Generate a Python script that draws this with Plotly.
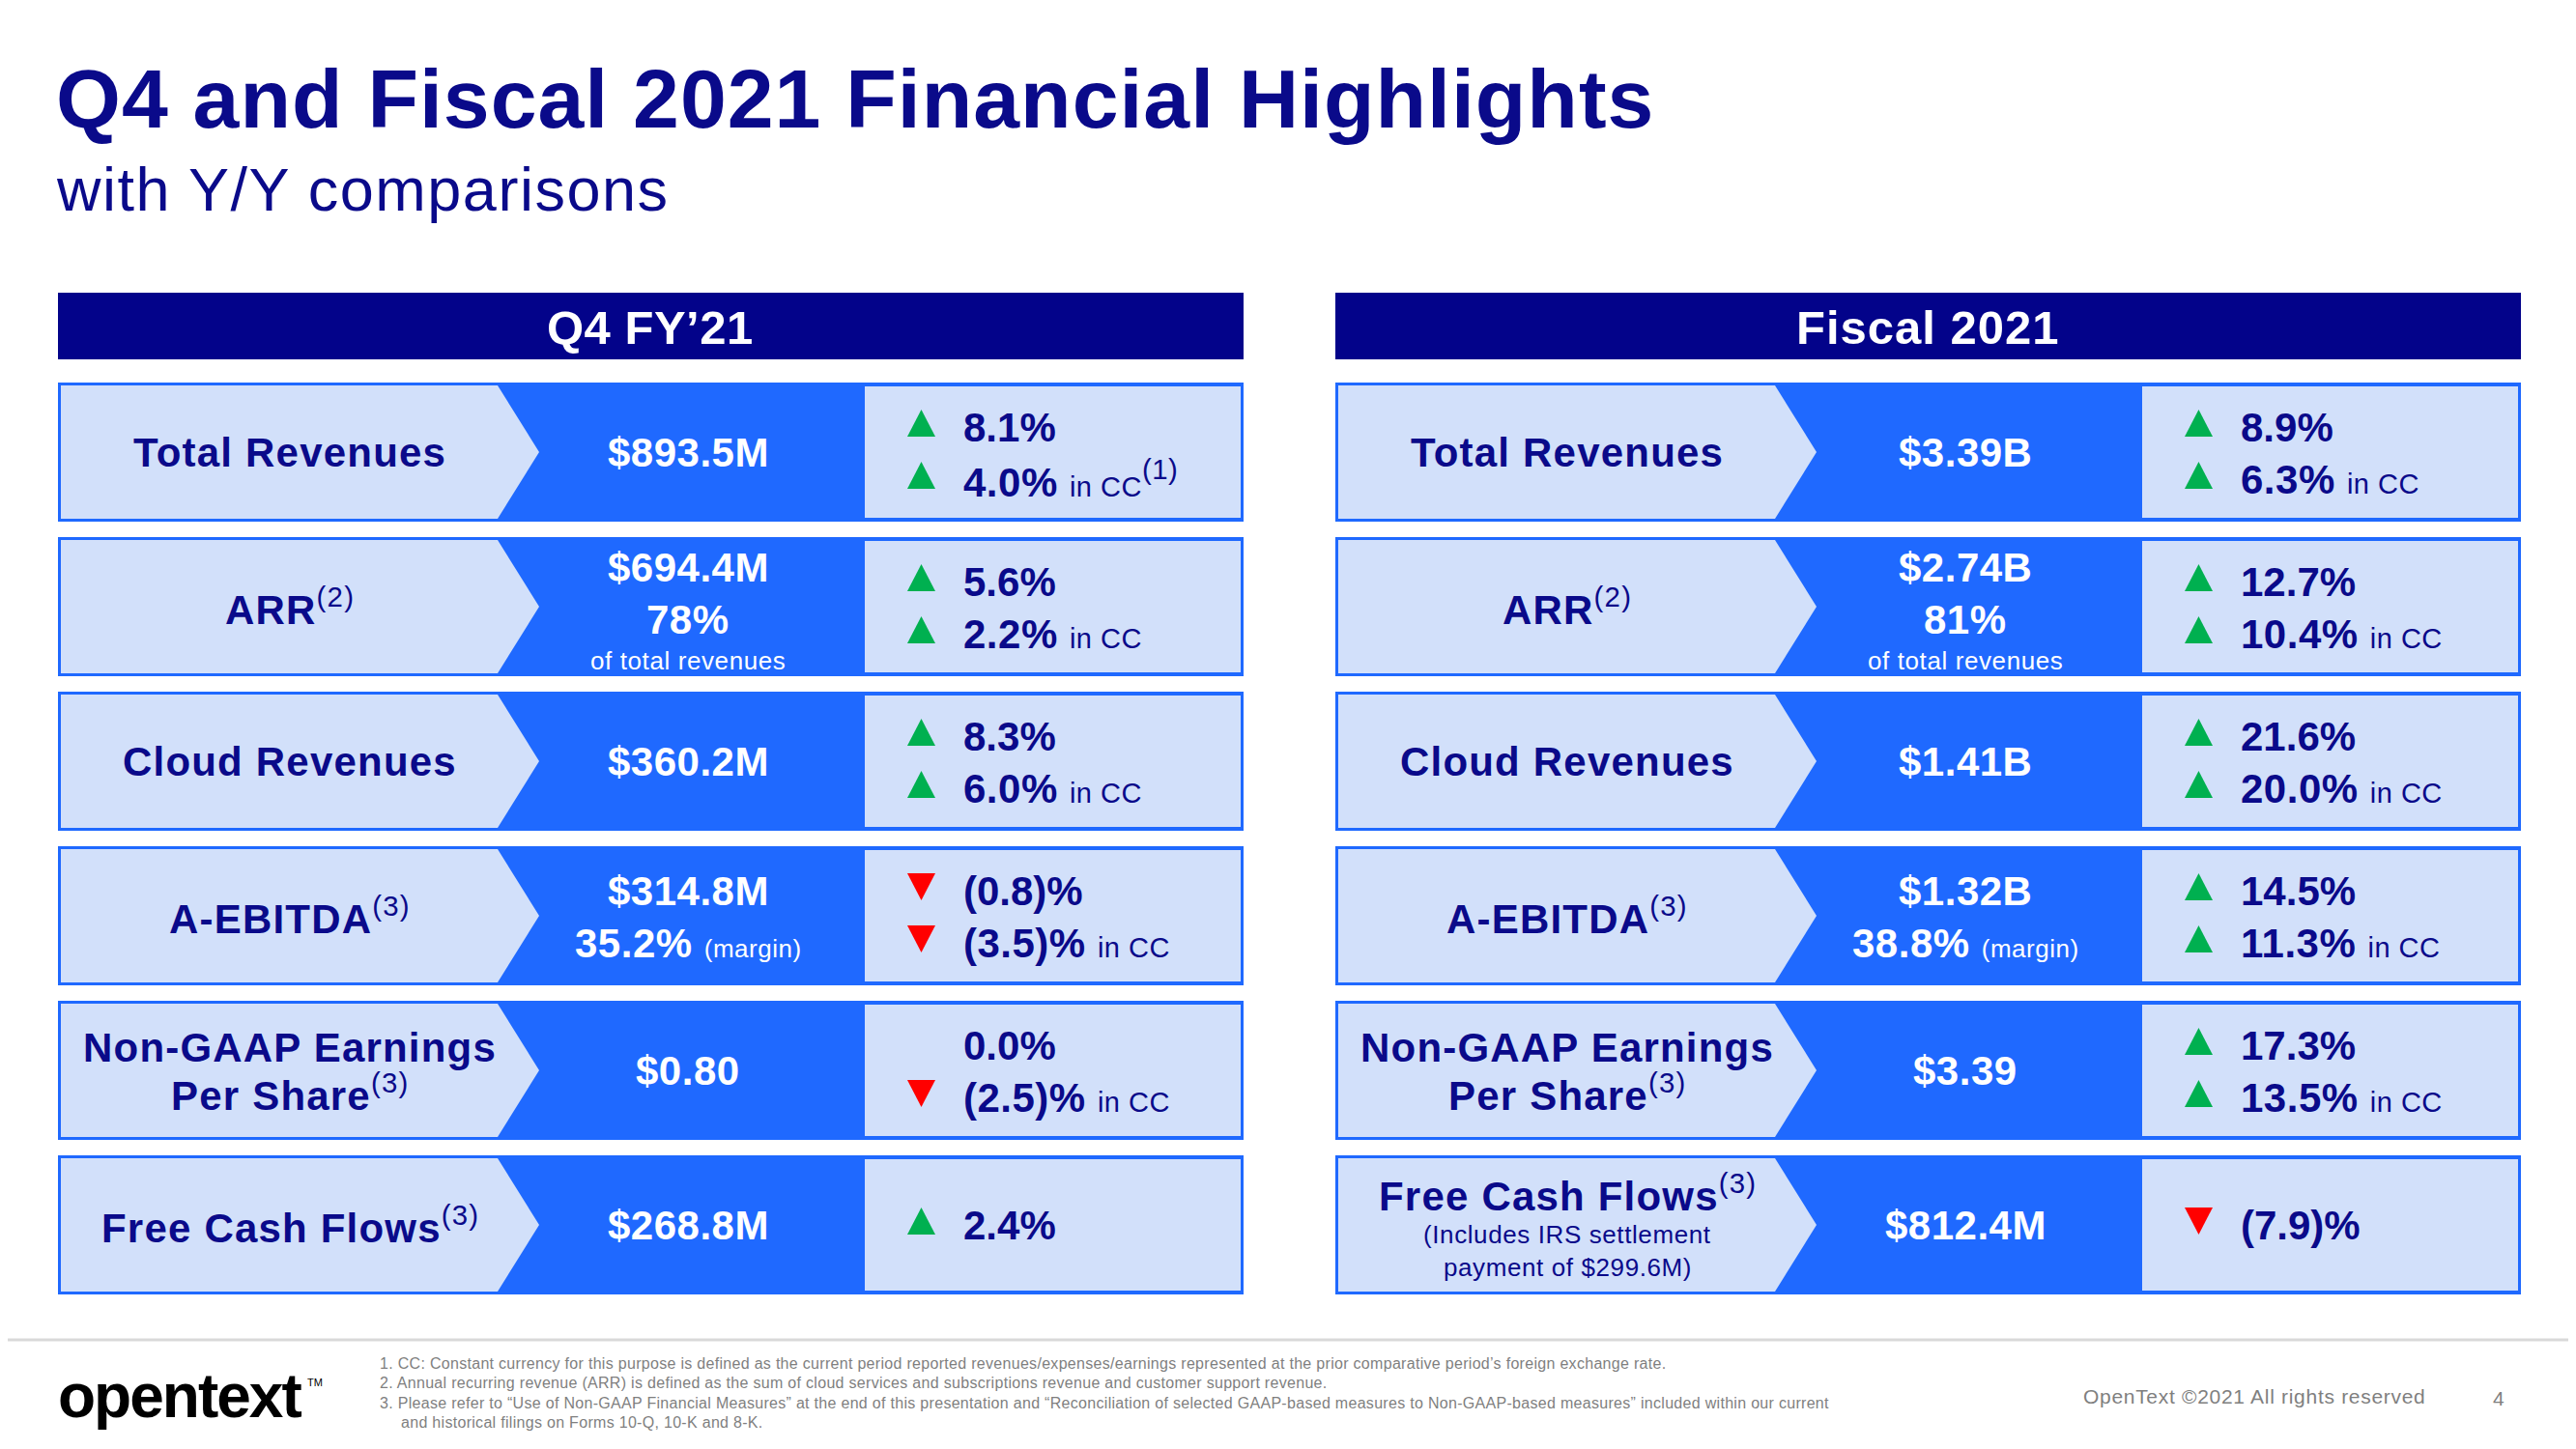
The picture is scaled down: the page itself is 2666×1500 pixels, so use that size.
import plotly.graph_objects as go

# ---------------- data ----------------
panel_titles = ["Q4 FY’21", "Fiscal 2021"]
metric_lines = [["Total Revenues"], ["ARR"], ["Cloud Revenues"], ["A-EBITDA"],
                ["Non-GAAP Earnings", "Per Share"], ["Free Cash Flows"]]
metric_notes = ["", "(2)", "", "(3)", "(3)", "(3)"]
fy_fcf_note = ["(Includes IRS settlement", "payment of $299.6M)"]

q4_values = ["$893.5M", "$694.4M", "$360.2M", "$314.8M", "$0.80", "$268.8M"]
fy_values = ["$3.39B", "$2.74B", "$1.41B", "$1.32B", "$3.39", "$812.4M"]
arr_share = [78, 81]            # % of total revenues (Q4, FY)
ebitda_margin = [35.2, 38.8]    # % margin (Q4, FY)

q4_change = [8.1, 5.6, 8.3, -0.8, 0.0, 2.4]
q4_change_cc = [4.0, 2.2, 6.0, -3.5, -2.5, None]
fy_change = [8.9, 12.7, 21.6, 14.5, 17.3, -7.9]
fy_change_cc = [6.3, 10.4, 20.0, 11.3, 13.5, None]

footnotes = [
    ("1. CC: Constant currency for this purpose is defined as the current period reported revenues/expenses/earnings represented at the prior comparative period’s foreign exchange rate.", 0),
    ("2. Annual recurring revenue (ARR) is defined as the sum of cloud services and subscriptions revenue and customer support revenue.", 0),
    ("3. Please refer to “Use of Non-GAAP Financial Measures” at the end of this presentation and “Reconciliation of selected GAAP-based measures to Non-GAAP-based measures” included within our current", 0),
    ("and historical filings on Forms 10-Q, 10-K and 8-K.", 1),
]

# ---------------- style ----------------
W, H = 2666, 1500
PAD = 8  # default page body margin
NAVY = "#0A0A8A"
HEAD = "#03038A"
BLUE = "#1F69FF"
LIGHT = "#D2E0FA"
GREEN = "#00B050"
RED = "#FF0000"
GRAY = "#7F7F7F"
FN = "Liberation Sans Narrow, Arial Narrow, Liberation Sans, Arial, sans-serif"
FW = "Liberation Sans, Arial, sans-serif"

ROW0, ROWSTEP, RH = 396, 160, 144
OFFS = [0, 1322]

shapes, annots = [], []


def ann(x, y, text, size, color, xanchor="center", family=FN, ls=None):
    if ls is not None:
        text = f'<span style="letter-spacing:{ls}px">{text}</span>'
    annots.append(dict(x=x, y=y, xref="x", yref="y", text=text, showarrow=False,
                       xanchor=xanchor, yanchor="middle",
                       font=dict(family=family, size=size, color=color)))


def fmt_pct(v):
    if v < 0:
        return f"({abs(v):.1f})%"
    return f"{v:.1f}%"


def tri(cx, cy, v):
    if v > 0:
        path = f"M{cx-14.5},{cy+14} L{cx+14.5},{cy+14} L{cx},{cy-14} Z"
        col = GREEN
    elif v < 0:
        path = f"M{cx-14.5},{cy-14} L{cx+14.5},{cy-14} L{cx},{cy+14} Z"
        col = RED
    else:
        return
    shapes.append(dict(type="path", path=path, xref="x", yref="y",
                       fillcolor=col, line=dict(width=0)))


for p, off in enumerate(OFFS):
    # header bar
    shapes.append(dict(type="rect", xref="x", yref="y", x0=60 + off, x1=1287 + off,
                       y0=303, y1=372, fillcolor=HEAD, line=dict(width=0)))
    ann(673 + off, 339, f"<b>{panel_titles[p]}</b>", 49, "white", ls=(0.5 if p == 0 else 1))

    values = q4_values if p == 0 else fy_values
    chg = q4_change if p == 0 else fy_change
    chg_cc = q4_change_cc if p == 0 else fy_change_cc

    for i in range(len(metric_lines)):
        top = ROW0 + ROWSTEP * i
        mid = top + RH / 2
        shapes.append(dict(type="rect", xref="x", yref="y", x0=60 + off, x1=1287 + off,
                           y0=top, y1=top + RH, fillcolor=BLUE, line=dict(width=0)))
        shapes.append(dict(type="path", xref="x", yref="y",
                           path=(f"M{63+off},{top+3} L{515+off},{top+3} L{558+off},{mid} "
                                 f"L{515+off},{top+RH-3} L{63+off},{top+RH-3} Z"),
                           fillcolor=LIGHT, line=dict(width=0)))
        shapes.append(dict(type="rect", xref="x", yref="y", x0=895 + off, x1=1284 + off,
                           y0=top + 4, y1=top + RH - 4, fillcolor=LIGHT, line=dict(width=0)))

        # ---- label ----
        lines = metric_lines[i]
        note = metric_notes[i]
        if p == 1 and i == 5:
            ann(300 + off, top + 39, f"<b>{lines[0]}</b><sup>{note}</sup>", 42, NAVY, ls=1.2)
            ann(300 + off, top + 82, fy_fcf_note[0], 26, NAVY, ls=0.6)
            ann(300 + off, top + 116, fy_fcf_note[1], 26, NAVY, ls=0.6)
        elif len(lines) == 2:
            ann(300 + off, top + 48, f"<b>{lines[0]}</b>", 42, NAVY, ls=1.2)
            ann(300 + off, top + 95, f"<b>{lines[1]}</b><sup>{note}</sup>", 42, NAVY, ls=1.2)
        else:
            ann(300 + off, mid, f"<b>{lines[0]}</b><sup>{note}</sup>", 42, NAVY, ls=1.2)

        # ---- value ----
        vx = 712 + off
        if i == 1:
            ann(vx, top + 31, f"<b>{values[i]}</b>", 42, "white", ls=0.5)
            ann(vx, top + 85, f"<b>{arr_share[p]}%</b>", 42, "white", ls=0.5)
            ann(vx, top + 128, "of total revenues", 26, "white", ls=0.6)
        elif i == 3:
            ann(vx, top + 46, f"<b>{values[i]}</b>", 42, "white", ls=0.5)
            ann(vx, top + 100, f"<b>{ebitda_margin[p]:.1f}%</b> "
                f"<span style=\"font-size:26px\">(margin)</span>", 42, "white", ls=0.5)
        else:
            ann(vx, mid, f"<b>{values[i]}</b>", 42, "white", ls=0.5)

        # ---- change ----
        tx, cx = 995 + off, 953.5 + off
        if chg_cc[i] is None:
            tri(cx, mid - 4, chg[i])
            ann(tx, mid, f"<b>{fmt_pct(chg[i])}</b>", 42, NAVY, xanchor="left", ls=0)
        else:
            y1, y2 = top + 46, top + 100
            tri(cx, y1 - 4, chg[i])
            tri(cx, y2 - 4, chg_cc[i])
            ann(tx, y1, f"<b>{fmt_pct(chg[i])}</b>", 42, NAVY, xanchor="left", ls=0)
            sup = "<sup>(1)</sup>" if (p == 0 and i == 0) else ""
            ann(tx, y2, f"<b>{fmt_pct(chg_cc[i])}</b> "
                f"<span style=\"font-size:29px\">in CC</span>{sup}", 42, NAVY,
                xanchor="left", ls=0.5)

# ---------------- title ----------------
ann(56, 102, "<b>Q4 and Fiscal 2021 Financial Highlights</b>", 86, NAVY, xanchor="left", ls=1)
ann(56, 196, "with Y/Y comparisons", 63, NAVY, xanchor="left", ls=1.5)

# ---------------- footer ----------------
shapes.append(dict(type="line", xref="x", yref="y", x0=0, x1=W, y0=1387, y1=1387,
                   line=dict(color="#D9D9D9", width=3)))
ann(58, 1445, "<b>opentext</b>", 64, "#000000", xanchor="left", family=FW, ls=-2)
ann(316, 1431, "TM", 11, "#000000", xanchor="left", family=FW)
fy0 = 1411
for k, (txt, ind) in enumerate(footnotes):
    ann(391 + 22 * ind, fy0 + 20.5 * k, txt, 16, GRAY, xanchor="left", ls=0.3)
ann(2154, 1445, "OpenText ©2021 All rights reserved", 21, GRAY, xanchor="left", ls=0.7)
ann(2578, 1447, "4", 21, GRAY, xanchor="left")

fig = go.Figure()
fig.update_layout(
    width=W - 2 * PAD, height=H - 2 * PAD, margin=dict(l=0, r=0, t=0, b=0),
    paper_bgcolor="white", plot_bgcolor="white",
    xaxis=dict(range=[PAD, W - PAD], visible=False, fixedrange=True),
    yaxis=dict(range=[H - PAD, PAD], visible=False, fixedrange=True),
    shapes=shapes, annotations=annots, showlegend=False,
)
fig.write_html("out.html")
